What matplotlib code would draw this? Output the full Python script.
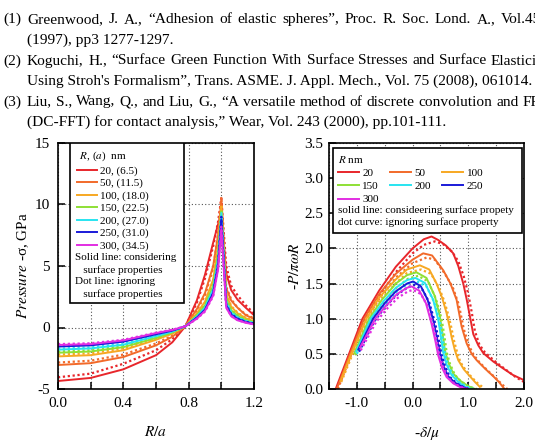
import numpy as np
import matplotlib.pyplot as plt
from matplotlib.lines import Line2D
from matplotlib.patches import Rectangle
from matplotlib.ticker import FixedLocator, FuncFormatter

plt.rcParams['font.family'] = ['Liberation Serif', 'DejaVu Serif']
plt.rcParams['mathtext.fontset'] = 'stix'
plt.rcParams['axes.unicode_minus'] = False

W, H = 535, 446

# reference list above the figure
ref_lines = [
    ("(1)", "Greenwood, J. A., “Adhesion of elastic spheres”, Proc. R. Soc. Lond. A., Vol.453", True),
    ("", "(1997), pp3 1277-1297.", False),
    ("(2)", "Koguchi, H., “Surface Green Function With Surface Stresses and Surface Elasticity", True),
    ("", "Using Stroh's Formalism”, Trans. ASME. J. Appl. Mech., Vol. 75 (2008), 061014.", False),
    ("(3)", "Liu, S., Wang, Q., and Liu, G., “A versatile method of discrete convolution and FFT", True),
    ("", "(DC-FFT) for contact analysis,” Wear, Vol. 243 (2000), pp.101-111.", False),
]
ref_baselines = [23, 44, 64.5, 85, 105.5, 126]

radii = [20, 50, 100, 150, 200, 250, 300]
contact_a = ['6.5', '11.5', '18.0', '22.5', '27.0', '31.0', '34.5']
colors = ['#e8262b', '#f26a2a', '#f7a823', '#8ee035', '#28e4f0', '#1a1ad8', '#e22ee2']

# left panel: pressure distribution vs R/a
ra = [0, 0.2, 0.4, 0.6, 0.7, 0.78, 0.85, 0.9, 0.95, 0.98, 1.0, 1.03, 1.06, 1.1, 1.15, 1.2]
p_solid = {
    20:  [-4.35, -4.1, -3.4, -2.25, -1.2, 0.1, 2.2, 4.3, 6.9, 8.4, 9.3, 4.4, 3.05, 2.25, 1.6, 1.0],
    50:  [-3.05, -2.9, -2.4, -1.45, -0.75, 0.1, 1.5, 2.8, 5.0, 7.5, 10.3, 3.2, 2.2, 1.6, 1.0, 0.7],
    100: [-2.35, -2.25, -1.85, -1.0, -0.5, 0.1, 1.15, 2.1, 3.9, 6.5, 9.8, 2.7, 1.7, 1.15, 0.75, 0.5],
    150: [-2.05, -1.95, -1.6, -0.85, -0.4, 0.1, 1.0, 1.8, 3.4, 5.9, 9.4, 2.3, 1.4, 0.95, 0.6, 0.42],
    200: [-1.8, -1.7, -1.4, -0.7, -0.33, 0.1, 0.9, 1.6, 3.1, 5.5, 9.1, 2.0, 1.2, 0.8, 0.5, 0.36],
    250: [-1.55, -1.45, -1.15, -0.55, -0.25, 0.1, 0.8, 1.45, 2.8, 5.1, 8.8, 1.8, 1.05, 0.7, 0.45, 0.3],
    300: [-1.42, -1.35, -1.05, -0.45, -0.2, 0.1, 0.72, 1.35, 2.6, 4.7, 8.0, 1.6, 0.92, 0.58, 0.38, 0.25],
}
p_dot = {
    20:  [-4.05, -3.75, -2.95, -1.85, -0.95, 0.1, 2.0, 4.0, 6.6, 8.6, 10.5, 5.0, 3.4, 2.6, 1.8, 1.15],
    50:  [-2.85, -2.7, -2.2, -1.3, -0.65, 0.1, 1.4, 2.6, 4.8, 7.6, 10.6, 3.3, 2.3, 1.6, 1.05, 0.75],
    100: [-2.2, -2.1, -1.7, -0.9, -0.45, 0.1, 1.1, 2.0, 3.8, 6.6, 10.0, 2.8, 1.75, 1.2, 0.8, 0.55],
    150: [-1.95, -1.85, -1.5, -0.8, -0.38, 0.1, 0.95, 1.75, 3.35, 6.0, 9.6, 2.4, 1.45, 1.0, 0.62, 0.45],
    200: [-1.72, -1.62, -1.33, -0.66, -0.3, 0.1, 0.85, 1.55, 3.05, 5.6, 9.3, 2.1, 1.25, 0.82, 0.52, 0.38],
    250: [-1.48, -1.4, -1.1, -0.52, -0.23, 0.1, 0.78, 1.4, 2.75, 5.2, 9.0, 1.85, 1.1, 0.72, 0.46, 0.32],
    300: [-1.35, -1.28, -1.0, -0.42, -0.18, 0.1, 0.7, 1.3, 2.55, 4.8, 8.2, 1.65, 0.95, 0.6, 0.4, 0.27],
}

# right panel: load vs approach, (x, y) per curve
d_solid = {
    20:  ([-1.38, -1.14, -0.9, -0.6, -0.3, 0.0, 0.2, 0.34, 0.46, 0.6, 0.73, 0.82, 0.91, 0.97, 1.03, 1.09, 1.18, 1.27, 1.45, 1.63, 1.8, 1.99],
          [0, 0.5, 1.0, 1.4, 1.74, 2.0, 2.13, 2.17, 2.12, 2.04, 1.93, 1.75, 1.5, 1.28, 1.03, 0.78, 0.62, 0.51, 0.39, 0.29, 0.2, 0.13]),
    50:  ([-1.36, -1.12, -0.87, -0.6, -0.3, 0.0, 0.19, 0.35, 0.55, 0.68, 0.79, 0.88, 0.97, 1.06, 1.15, 1.3, 1.45, 1.55, 1.65],
          [0, 0.5, 1.0, 1.35, 1.64, 1.84, 1.93, 1.9, 1.69, 1.5, 1.27, 0.89, 0.65, 0.5, 0.41, 0.29, 0.18, 0.1, 0.0]),
    100: ([-1.3, -1.1, -0.83, -0.6, -0.3, -0.1, 0.13, 0.3, 0.43, 0.53, 0.61, 0.66, 0.7, 0.76, 0.82, 0.92, 1.03, 1.12, 1.22],
          [0.1, 0.5, 1.0, 1.3, 1.56, 1.7, 1.76, 1.7, 1.5, 1.3, 1.08, 0.9, 0.74, 0.55, 0.41, 0.28, 0.18, 0.1, 0.02]),
    150: ([-1.05, -0.78, -0.55, -0.3, -0.1, 0.07, 0.25, 0.4, 0.49, 0.54, 0.58, 0.64, 0.73, 0.85, 1.0, 1.12],
          [0.5, 1.0, 1.27, 1.5, 1.62, 1.66, 1.58, 1.32, 1.03, 0.78, 0.55, 0.38, 0.22, 0.12, 0.04, 0.0]),
    200: ([-1.02, -0.75, -0.52, -0.3, -0.1, 0.05, 0.22, 0.37, 0.46, 0.51, 0.55, 0.61, 0.7, 0.82, 0.95, 1.06],
          [0.52, 1.0, 1.25, 1.44, 1.55, 1.58, 1.51, 1.27, 0.99, 0.74, 0.52, 0.35, 0.2, 0.1, 0.03, 0.0]),
    250: ([-0.98, -0.71, -0.5, -0.3, -0.1, 0.01, 0.15, 0.27, 0.37, 0.44, 0.49, 0.56, 0.64, 0.76, 0.9, 1.0],
          [0.55, 1.0, 1.22, 1.39, 1.5, 1.53, 1.46, 1.27, 0.98, 0.72, 0.51, 0.32, 0.18, 0.09, 0.03, 0.0]),
    300: ([-0.95, -0.67, -0.47, -0.28, -0.1, -0.02, 0.12, 0.24, 0.34, 0.41, 0.46, 0.53, 0.61, 0.73, 0.87, 0.97],
          [0.58, 1.0, 1.19, 1.35, 1.44, 1.46, 1.4, 1.22, 0.93, 0.68, 0.48, 0.3, 0.17, 0.08, 0.02, 0.0]),
}
d_dot = {
    20:  ([-1.36, -1.12, -0.88, -0.58, -0.28, 0.0, 0.2, 0.4, 0.55, 0.7, 0.82, 0.92, 1.0, 1.06, 1.12, 1.2, 1.3, 1.5, 1.7, 1.85, 2.0],
          [0, 0.48, 0.96, 1.35, 1.68, 1.93, 2.05, 2.1, 2.06, 1.96, 1.82, 1.6, 1.35, 1.1, 0.82, 0.63, 0.52, 0.38, 0.26, 0.17, 0.1]),
    50:  ([-1.34, -1.1, -0.85, -0.58, -0.28, 0.0, 0.25, 0.4, 0.58, 0.72, 0.83, 0.92, 1.01, 1.1, 1.2, 1.35, 1.5, 1.6, 1.7],
          [0, 0.49, 0.97, 1.31, 1.6, 1.79, 1.87, 1.84, 1.64, 1.45, 1.2, 0.85, 0.62, 0.48, 0.38, 0.26, 0.15, 0.07, 0.0]),
    100: ([-1.28, -1.08, -0.81, -0.58, -0.28, -0.1, 0.15, 0.33, 0.47, 0.57, 0.65, 0.7, 0.74, 0.8, 0.86, 0.96, 1.07, 1.17, 1.27],
          [0.1, 0.49, 0.97, 1.27, 1.52, 1.65, 1.7, 1.64, 1.45, 1.25, 1.03, 0.86, 0.7, 0.52, 0.38, 0.26, 0.16, 0.08, 0.02]),
    150: ([-1.03, -0.76, -0.53, -0.28, -0.08, 0.1, 0.28, 0.42, 0.52, 0.57, 0.61, 0.67, 0.76, 0.88, 1.03, 1.15],
          [0.48, 0.96, 1.22, 1.45, 1.57, 1.61, 1.53, 1.28, 1.0, 0.76, 0.53, 0.36, 0.2, 0.1, 0.03, 0.0]),
    200: ([-1.0, -0.73, -0.5, -0.28, -0.08, 0.08, 0.25, 0.39, 0.49, 0.54, 0.58, 0.64, 0.73, 0.85, 0.98, 1.09],
          [0.5, 0.96, 1.2, 1.39, 1.5, 1.53, 1.46, 1.23, 0.96, 0.72, 0.5, 0.33, 0.19, 0.09, 0.03, 0.0]),
    250: ([-0.96, -0.69, -0.48, -0.28, -0.08, 0.04, 0.18, 0.3, 0.4, 0.47, 0.52, 0.59, 0.67, 0.79, 0.93, 1.03],
          [0.53, 0.96, 1.18, 1.34, 1.45, 1.48, 1.41, 1.23, 0.95, 0.7, 0.49, 0.31, 0.17, 0.08, 0.02, 0.0]),
    300: ([-0.93, -0.65, -0.45, -0.26, -0.08, 0.01, 0.15, 0.27, 0.37, 0.44, 0.49, 0.56, 0.64, 0.76, 0.9, 1.0],
          [0.55, 0.96, 1.15, 1.3, 1.39, 1.41, 1.35, 1.18, 0.9, 0.66, 0.46, 0.29, 0.16, 0.07, 0.02, 0.0]),
}

fig = plt.figure(figsize=(W / 100, H / 100), dpi=100)

# --- reference text, justified like the page ---
fs_ref = 11.1
renderer = fig.canvas.get_renderer()
for (tag, body, just), base in zip(ref_lines, ref_baselines):
    yf = 1 - base / H
    if tag:
        fig.text(3 / W, yf, tag, fontsize=fs_ref, va='baseline')
    if not just:
        fig.text(27 / W, yf, body, fontsize=fs_ref, va='baseline')
        continue
    words = body.split(' ')
    texts = [fig.text(0, yf, w, fontsize=fs_ref, va='baseline') for w in words]
    widths = [t.get_window_extent(renderer).width for t in texts]
    gap = (549 - 27 - sum(widths)) / (len(words) - 1)
    x = 27
    for t, w in zip(texts, widths):
        t.set_x(x / W)
        x += w + gap

solid_kw = dict(lw=1.4, solid_capstyle='butt')
dot_kw = dict(lw=1.6, ls=(0, (1, 1.2)))
fs_leg = 8


def style_axes(ax):
    ax.tick_params(direction='in', length=5, width=1.1, labelsize=11)
    for s in ax.spines.values():
        s.set_linewidth(1.2)
    ax.grid(True, color='#555555', ls=(0, (1, 2)), lw=0.8)
    ax.set_axisbelow(True)


# --- left panel ---
ax1 = fig.add_axes([58 / W, 1 - 389 / H, 196 / W, 246 / H])
for r, c in zip(radii, colors):
    ax1.plot(ra, p_solid[r], color=c, **solid_kw)
    ax1.plot(ra, p_dot[r], color=c, **dot_kw)
ax1.set_xlim(0, 1.2)
ax1.set_ylim(-5, 15)
ax1.xaxis.set_major_locator(FixedLocator([0, 0.2, 0.4, 0.6, 0.8, 1.0, 1.2]))
ax1.xaxis.set_major_formatter(FuncFormatter(
    lambda v, p: '%.1f' % v if abs(v / 0.4 - round(v / 0.4)) < 1e-6 else ''))
ax1.yaxis.set_major_locator(FixedLocator([-5, 0, 5, 10, 15]))
style_axes(ax1)
ax1.tick_params(axis='y', pad=6)
ax1.tick_params(axis='x', pad=6)
ax1.set_xlabel('$R/a$', fontsize=11)
ax1.set_ylabel('$Pressure$ -σ, GPa', fontsize=11)
ax1.xaxis.set_label_coords(0.5, -0.145)
ax1.yaxis.set_label_coords(-0.14, 0.5)

ax1.add_patch(Rectangle((0.061, 0.348), 0.582, 0.652, transform=ax1.transAxes,
                        facecolor='white', edgecolor='black', lw=1.2, zorder=5))
h1 = [Line2D([], [], color=c, lw=1.4) for c in colors]
l1 = ['%d, (%s)' % (r, a) for r, a in zip(radii, contact_a)]
leg1 = ax1.legend(h1, l1, title=' $R$, ($a$)  nm', loc='upper left',
                  bbox_to_anchor=(0.097, 0.972), frameon=False, fontsize=fs_leg,
                  title_fontsize=fs_leg, handlelength=1.8, handletextpad=0.3,
                  labelspacing=0.22, borderpad=0, borderaxespad=0, alignment='left')
leg1.set_zorder(6)
ax1.text(0.087, 0.553, 'Solid line: considering\n   surface properties\n'
         'Dot line: ignoring\n   surface properties',
         transform=ax1.transAxes, fontsize=fs_leg, va='top', ha='left',
         linespacing=1.38, zorder=6)

# --- right panel ---
ax2 = fig.add_axes([329 / W, 1 - 389 / H, 195 / W, 246 / H])
for r, c in zip(radii, colors):
    ax2.plot(d_solid[r][0], d_solid[r][1], color=c, **solid_kw)
    ax2.plot(d_dot[r][0], d_dot[r][1], color=c, **dot_kw)
ax2.set_xlim(-1.5, 2.0)
ax2.set_ylim(0, 3.5)
ax2.xaxis.set_major_locator(FixedLocator(np.arange(-1.5, 2.01, 0.5)))
ax2.xaxis.set_major_formatter(FuncFormatter(
    lambda v, p: '%.1f' % v if abs(v - round(v)) < 1e-6 else ''))
ax2.yaxis.set_major_locator(FixedLocator(np.arange(0, 3.51, 0.5)))
ax2.yaxis.set_major_formatter(FuncFormatter(lambda v, p: '%.1f' % v))
style_axes(ax2)
ax2.tick_params(axis='y', pad=4)
ax2.tick_params(axis='x', pad=6)
ax2.set_xlabel(r'-$\delta/\mu$', fontsize=11)
ax2.set_ylabel(r'-$P/\pi\omega R$', fontsize=11)
ax2.xaxis.set_label_coords(0.5, -0.145)
ax2.yaxis.set_label_coords(-0.138, 0.5)

ax2.add_patch(Rectangle((0.022, 0.633), 0.966, 0.345, transform=ax2.transAxes,
                        facecolor='white', edgecolor='black', lw=1.2, zorder=5))
order = [0, 3, 6, 1, 4, 2, 5]
h2 = [Line2D([], [], color=colors[i], lw=1.4) for i in order]
l2 = [str(radii[i]) for i in order]
leg2 = ax2.legend(h2, l2, title='$R$ nm', loc='upper left', ncol=3,
                  bbox_to_anchor=(0.046, 0.955), frameon=False, fontsize=fs_leg,
                  title_fontsize=fs_leg, handlelength=1.9, handletextpad=0.3,
                  labelspacing=0.3, columnspacing=1.0, borderpad=0,
                  borderaxespad=0, alignment='left')
leg2.set_zorder(6)
ax2.text(0.046, 0.745, 'solid line: consideering surface propety\n'
         'dot curve: ignoring surface property',
         transform=ax2.transAxes, fontsize=fs_leg, va='top', ha='left',
         linespacing=1.25, zorder=6)

fig.savefig('out.png', dpi=100)
